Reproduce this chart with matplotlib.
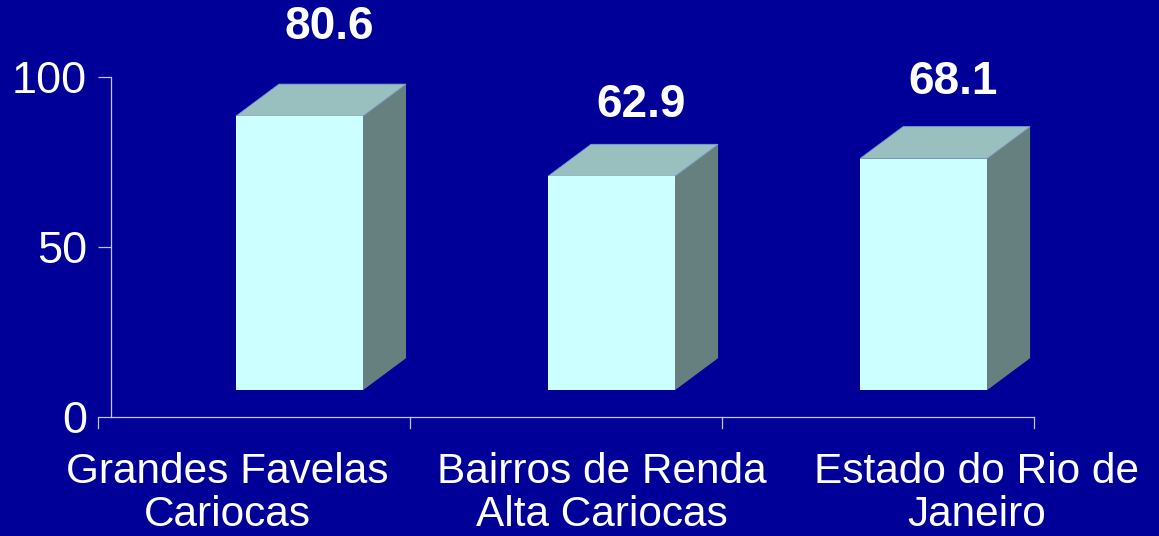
import numpy as np
import matplotlib.pyplot as plt
import matplotlib.transforms as mtransforms
from matplotlib.patches import Polygon

plt.rcParams['font.family'] = ['Liberation Sans', 'DejaVu Sans']

categories = ["Grandes Favelas\nCariocas", "Bairros de Renda\nAlta Cariocas", "Estado do Rio de\nJaneiro"]
values = [80.6, 62.9, 68.1]
yticks = [0, 50, 100]

BG = '#000099'
FRONT = '#ccffff'
TOP = '#99c0bf'
SIDE = '#668080'
AXC = '#c4c4e6'

fig = plt.figure(figsize=(11.59, 5.36), dpi=100, facecolor=BG)
ax = fig.add_axes([111 / 1159, 119 / 536, 923 / 1159, 340 / 536])
ax.set_facecolor(BG)

# fake 3d: front face sits a bit above the floor line, depth goes up-right
floor = 7.9
dx, dy = 0.138, 9.4
w = 0.407
shift = 0.146

for i, v in enumerate(values):
    x0 = i + shift - w / 2
    x1 = x0 + w
    y0, y1 = floor, floor + v
    ax.add_patch(Polygon([(x1, y0), (x1 + dx, y0 + dy), (x1 + dx, y1 + dy), (x1, y1)],
                         fc=SIDE, ec='none', zorder=2))
    ax.add_patch(Polygon([(x0, y1), (x1, y1), (x1 + dx, y1 + dy), (x0 + dx, y1 + dy)],
                         fc=TOP, ec='#7f9fc8', lw=0.6, zorder=2))
    ax.add_patch(Polygon([(x0, y0), (x1, y0), (x1, y1), (x0, y1)],
                         fc=FRONT, ec='none', zorder=3))
    # labels in the original sit on a slightly stretched scale
    ax.text(i + shift + dx / 2 + 0.025, 1.3 * v + 10, f"{v}", ha='center', va='center',
            fontsize=33, fontweight='bold', color='white')

# category boundary ticks
for b in np.arange(len(values) + 1) - 0.5:
    ax.plot([b, b], [0, -3.2], color=AXC, lw=0.9, clip_on=False)

trans = mtransforms.blended_transform_factory(ax.transData, ax.transAxes)
for i, lab in enumerate(categories):
    ax.text(-0.085 + i * 1.2, -0.103, lab, transform=trans, ha='center', va='top',
            multialignment='center', linespacing=1.1, fontsize=30.5, color='white')

ax.set_xlim(-0.458, 2.5)
ax.set_ylim(0, 100)
ax.set_xticks([])
ax.set_yticks(yticks)
ax.tick_params(axis='y', direction='out', length=9.4, width=0.9, color=AXC,
               labelsize=32.5, labelcolor='white', pad=8)
for s in ['top', 'right']:
    ax.spines[s].set_visible(False)
for s in ['left', 'bottom']:
    ax.spines[s].set_color(AXC)
    ax.spines[s].set_linewidth(0.9)

fig.savefig('out.png', dpi=100, facecolor=BG)
